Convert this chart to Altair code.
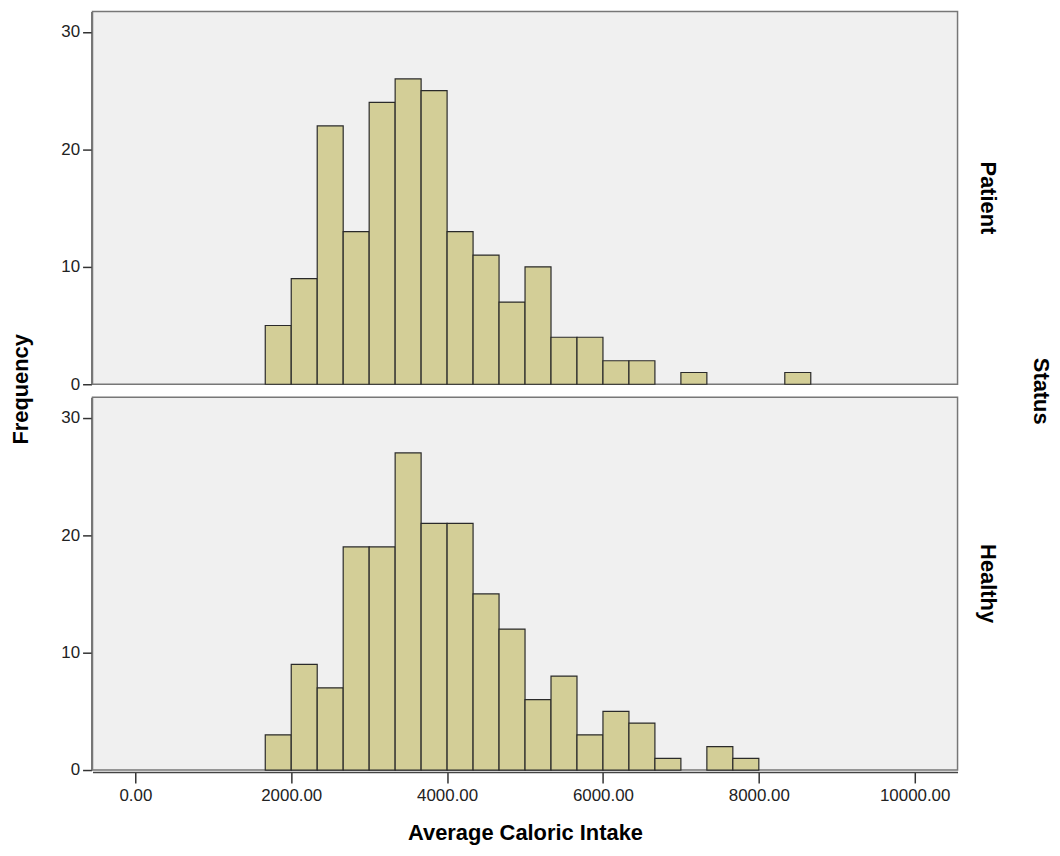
import altair as alt
import pandas as pd

# Histogram data (bin width = 333.33 calories)
first_edge = 5000 / 3          # 1666.67
bin_width = 1000 / 3           # 333.33
patient_counts = [5, 9, 22, 13, 24, 26, 25, 13, 11, 7, 10, 4, 4, 2, 2, 0, 1, 0, 0, 0, 1]
healthy_counts = [3, 9, 7, 19, 19, 27, 21, 21, 15, 12, 6, 8, 3, 5, 4, 1, 0, 2, 1]
groups = ["Patient", "Healthy"]

rows = []
for status, counts in (("Patient", patient_counts), ("Healthy", healthy_counts)):
    for i, c in enumerate(counts):
        if c > 0:
            start = first_edge + i * bin_width
            rows.append({"Status": status, "start": start, "end": start + bin_width, "count": c})
df = pd.DataFrame(rows)

FONT = "Liberation Sans"

base = alt.Chart(df).mark_bar(
    fill="#d3ce97", stroke="#2a2a2a", strokeWidth=1.2
).encode(
    x=alt.X("start:Q",
            scale=alt.Scale(domain=[-550, 10550], nice=False, zero=False),
            axis=alt.Axis(values=[0, 2000, 4000, 6000, 8000, 10000], format=".2f",
                          title="Average Caloric Intake", tickSize=11, labelPadding=5,
                          titlePadding=19)),
    x2="end:Q",
    y=alt.Y("count:Q",
            scale=alt.Scale(domain=[0, 31.75], nice=False),
            axis=alt.Axis(values=[0, 10, 20, 30], title=None, tickSize=9, labelPadding=3)),
    y2=alt.datum(0),
).properties(width=870, height=375)

chart = base.facet(
    row=alt.Row("Status:N", sort=groups,
                header=alt.Header(title="Status", titleOrient="right", labelOrient="right",
                                  labelAngle=90, titleAngle=90,
                                  labelFontSize=22, labelFontWeight="bold", labelFont=FONT,
                                  labelColor="#000", labelPadding=18,
                                  titleFontSize=22, titleFontWeight="bold", titleFont=FONT,
                                  titleColor="#000", titlePadding=20)),
    spacing=10,
).properties(
    title=alt.TitleParams("Frequency", orient="left", anchor="middle",
                          fontSize=22, fontWeight="bold", font=FONT, color="#000",
                          offset=28, dx=38),
    padding={"left": 2, "top": 0, "right": 0, "bottom": 0},
).configure_view(
    fill="#f0f0f0", stroke="#777777", strokeWidth=1.5
).configure_axis(
    labelFont=FONT, labelFontSize=17, labelColor="#222", titleFont=FONT,
    titleFontSize=22, titleFontWeight="bold", titleColor="#000",
    domainColor="#444", domainWidth=1.5, tickColor="#333", tickWidth=1.5, grid=False
)

chart.save("out.html", embed_options={"renderer": "svg", "actions": False})
